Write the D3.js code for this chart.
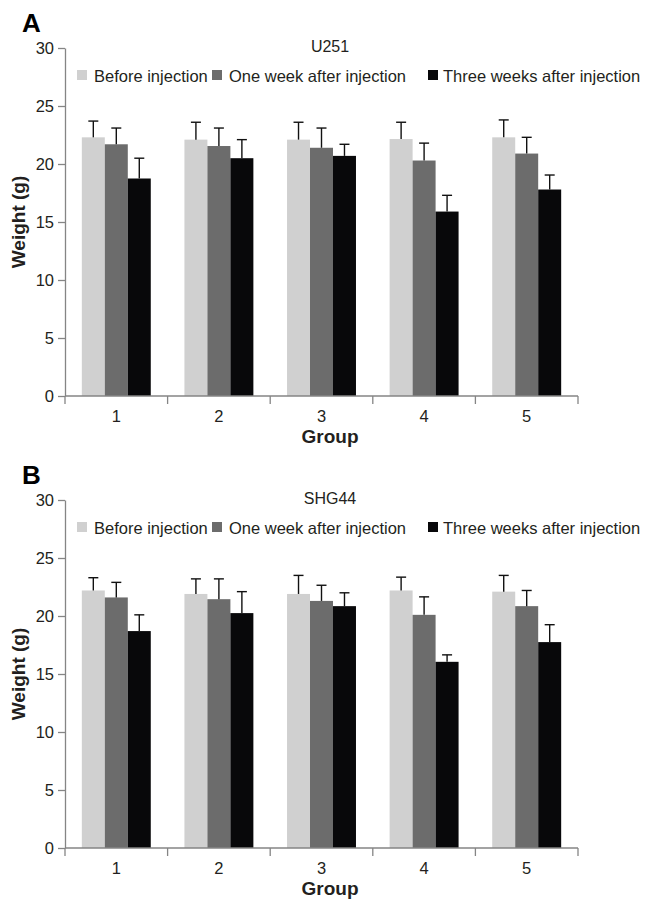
<!DOCTYPE html>
<html>
<head>
<meta charset="utf-8">
<script src="https://cdn.jsdelivr.net/npm/d3@7/dist/d3.min.js"></script>
<style>
  html, body { margin: 0; padding: 0; background: #fff; }
  svg { display: block; font-family: "Liberation Sans", Arial, sans-serif; }
</style>
</head>
<body>
<svg id="chart" width="653" height="913"></svg>
<script>
// ---- data ----
const groups = ["1", "2", "3", "4", "5"];
const seriesNames = ["Before injection", "One week after injection", "Three weeks after injection"];
const seriesColors = ["#d0d0d0", "#6c6c6c", "#08080a"];
const yTicks = [0, 5, 10, 15, 20, 25, 30];

// Panel A: U251
const u251Before = [22.3, 22.1, 22.1, 22.15, 22.3];
const u251OneWeek = [21.7, 21.55, 21.4, 20.3, 20.9];
const u251ThreeWeeks = [18.75, 20.5, 20.7, 15.9, 17.8];
const u251BeforeErr = [1.4, 1.5, 1.5, 1.45, 1.5];
const u251OneWeekErr = [1.4, 1.55, 1.7, 1.5, 1.4];
const u251ThreeWeeksErr = [1.75, 1.6, 1.0, 1.4, 1.25];

// Panel B: SHG44
const shg44Before = [22.2, 21.9, 21.9, 22.2, 22.1];
const shg44OneWeek = [21.6, 21.45, 21.3, 20.1, 20.85];
const shg44ThreeWeeks = [18.7, 20.25, 20.85, 16.05, 17.75];
const shg44BeforeErr = [1.1, 1.3, 1.6, 1.15, 1.4];
const shg44OneWeekErr = [1.3, 1.75, 1.35, 1.55, 1.35];
const shg44ThreeWeeksErr = [1.4, 1.85, 1.15, 0.6, 1.5];

const panels = [
  { letter: "A", title: "U251", offset: 0,
    values: [u251Before, u251OneWeek, u251ThreeWeeks],
    errs: [u251BeforeErr, u251OneWeekErr, u251ThreeWeeksErr] },
  { letter: "B", title: "SHG44", offset: 452,
    values: [shg44Before, shg44OneWeek, shg44ThreeWeeks],
    errs: [shg44BeforeErr, shg44OneWeekErr, shg44ThreeWeeksErr] }
];

const svg = d3.select("#chart");
const plotLeft = 65, plotRight = 578, plotTop = 48, plotBottom = 396;
const textColor = "#231f20";
const axisColor = "#858585";

panels.forEach(p => {
  const g = svg.append("g").attr("transform", `translate(0,${p.offset})`);

  const x0 = d3.scaleBand().domain(groups).range([plotLeft, plotRight]).padding(0);
  const bw = x0.bandwidth();
  const x1 = d3.scaleBand().domain(d3.range(seriesNames.length))
    .range([bw * 0.164, bw * 0.836]).padding(0);
  const y = d3.scaleLinear().domain([0, 30]).range([plotBottom, plotTop]);

  // panel letter
  g.append("text").attr("x", 22).attr("y", 32)
    .attr("font-size", 26).attr("font-weight", "bold").attr("fill", "#000")
    .text(p.letter);

  // title
  g.append("text").attr("x", 330).attr("y", 52).attr("text-anchor", "middle")
    .attr("font-size", 16).attr("fill", textColor).text(p.title);

  // bars
  p.values.forEach((vals, si) => {
    g.append("g").selectAll("rect").data(vals).join("rect")
      .attr("x", (d, i) => x0(groups[i]) + x1(si))
      .attr("width", x1.bandwidth())
      .attr("y", d => y(d))
      .attr("height", d => y(0) - y(d))
      .attr("fill", seriesColors[si]);
  });

  // error bars
  p.values.forEach((vals, si) => {
    const eg = g.append("g").attr("stroke", "#111").attr("stroke-width", 1.4);
    vals.forEach((v, i) => {
      const cx = x0(groups[i]) + x1(si) + x1.bandwidth() / 2;
      const e = p.errs[si][i];
      eg.append("line").attr("x1", cx).attr("x2", cx)
        .attr("y1", y(v)).attr("y2", y(v + e));
      eg.append("line").attr("x1", cx - 5).attr("x2", cx + 5)
        .attr("y1", y(v + e)).attr("y2", y(v + e));
    });
  });

  // y axis
  const yAxis = g.append("g").attr("transform", `translate(${plotLeft},0)`)
    .call(d3.axisLeft(y).tickValues(yTicks).tickSize(7).tickPadding(4).tickSizeOuter(0));
  yAxis.select(".domain").attr("stroke", axisColor).attr("stroke-width", 1.3);
  yAxis.selectAll(".tick line").attr("stroke", axisColor).attr("stroke-width", 1.3);
  yAxis.selectAll(".tick text").attr("font-size", 16.5).attr("fill", textColor)
    .attr("font-family", "Liberation Sans, Arial, sans-serif");

  // x axis
  const xg = g.append("g").attr("transform", `translate(0,${plotBottom})`);
  xg.append("line").attr("x1", plotLeft).attr("x2", plotRight).attr("y1", 0).attr("y2", 0)
    .attr("stroke", axisColor).attr("stroke-width", 1.3);
  const bounds = groups.map(d => x0(d)).concat([x0(groups[groups.length - 1]) + bw]);
  xg.selectAll("line.tk").data(bounds).join("line").attr("class", "tk")
    .attr("x1", d => d).attr("x2", d => d).attr("y1", 0).attr("y2", 8)
    .attr("stroke", axisColor).attr("stroke-width", 1.3);
  xg.selectAll("text").data(groups).join("text")
    .attr("x", d => x0(d) + bw / 2).attr("y", 26).attr("text-anchor", "middle")
    .attr("font-size", 16.5).attr("fill", textColor).text(d => d);

  // axis titles
  g.append("text").attr("x", 330).attr("y", 443).attr("text-anchor", "middle")
    .attr("font-size", 19).attr("font-weight", "bold").attr("fill", textColor).text("Group");
  g.append("text").attr("transform", `translate(25,${(plotTop + plotBottom) / 2}) rotate(-90)`)
    .attr("text-anchor", "middle")
    .attr("font-size", 19).attr("font-weight", "bold").attr("fill", textColor).text("Weight (g)");

  // legend
  const legendX = [77, 212, 428];
  const lg = g.append("g");
  seriesNames.forEach((name, si) => {
    lg.append("rect").attr("x", legendX[si]).attr("y", 70).attr("width", 10).attr("height", 10)
      .attr("fill", seriesColors[si]);
    lg.append("text").attr("x", legendX[si] + (si === 2 ? 15 : 17)).attr("y", 81.5)
      .attr("font-size", 16.5).attr("fill", textColor).text(name);
  });
});
</script>
</body>
</html>
